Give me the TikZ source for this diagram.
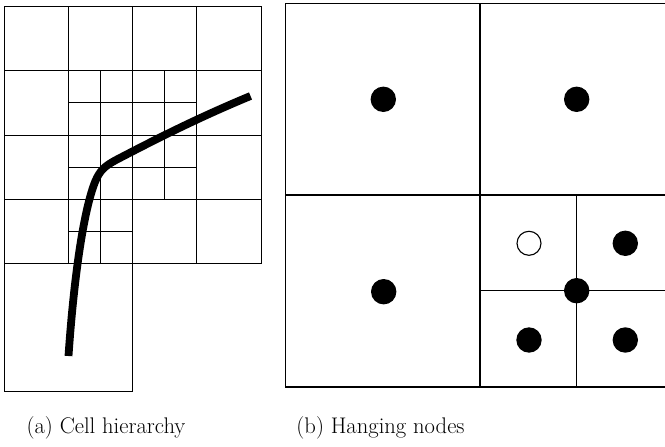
\documentclass[tikz,border=0pt]{standalone}
\usepackage{fontspec}
\setmainfont{Latin Modern Roman}
\begin{document}
\begin{tikzpicture}[x=1pt,y=-1pt,
  thin grid/.style={line width=0.9pt, black},
  quad/.style={line width=1.2pt, black},
  fulldot/.style={circle, fill=black, minimum size=25.4pt, inner sep=0pt},
  opendot/.style={circle, draw=black, fill=white, line width=1.1pt, minimum size=24pt, inner sep=0pt},
  captext/.style={anchor=base, font=\fontsize{22.6}{26}\selectfont}]
\useasboundingbox (0,0) rectangle (665,447);
% (a) cell hierarchy
\draw[thin grid] (4.3,6) rectangle (261,263.5);
\foreach \x in {68.5,132.7,196.8} \draw[thin grid] (\x,6) -- (\x,263.5);
\foreach \y in {70.5,135,199.3} \draw[thin grid] (4.3,\y) -- (261,\y);
\draw[thin grid] (4.3,263.5) rectangle (132.7,391.5);
\draw[thin grid] (100.6,70.5) -- (100.6,263.5);
\draw[thin grid] (164.7,70.5) -- (164.7,199.3);
\draw[thin grid] (68.5,102.75) -- (196.8,102.75);
\draw[thin grid] (68.5,167.1) -- (196.8,167.1);
\draw[thin grid] (68.5,231.4) -- (132.7,231.4);
\draw[line width=7.8pt, line cap=butt]
  (68.5,356) .. controls (73,290) and (82,215) .. (95,182)
  .. controls (100,170) and (105,166) .. (116,160)
  .. controls (160,137) and (200,117) .. (250.5,96);
% (b) hanging nodes
\draw[quad] (665,3.3) -- (285.7,3.3) -- (285.7,387) -- (665,387);
\draw[quad] (480,3.3) -- (480,387);
\draw[quad] (285.7,195) -- (665,195);
\draw[quad] (576.7,195) -- (576.7,387);
\draw[quad] (480,290.7) -- (665,290.7);
\node[fulldot] (d1) at (383.3,99.3) {};
\node[fulldot] (d2) at (576.7,99.3) {};
\node[fulldot] (d3) at (383.7,291.7) {};
\node[opendot] (h1) at (529,243.3) {};
\node[fulldot] (d4) at (625.3,243.3) {};
\node[fulldot] (d5) at (576.7,290.7) {};
\node[fulldot] (d6) at (529,340) {};
\node[fulldot] (d7) at (625.3,340) {};
% captions
\node[captext] (ca) at (106,433) {(a) Cell hierarchy};
\node[captext] (cb) at (380.5,433) {(b) Hanging nodes};
\end{tikzpicture}
\end{document}
